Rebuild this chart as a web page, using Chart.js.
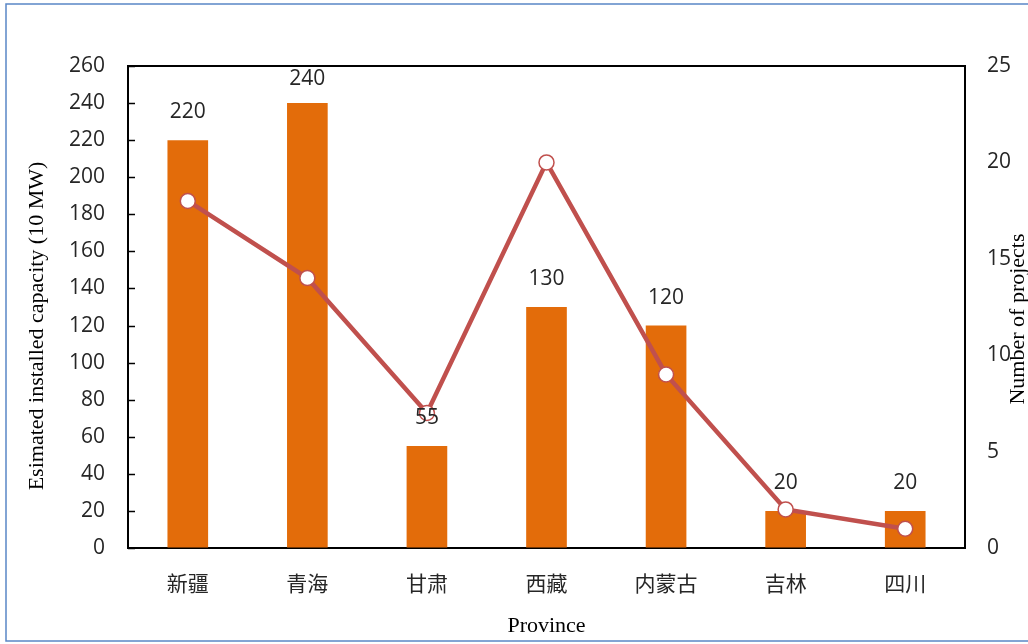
<!DOCTYPE html>
<html lang="zh">
<head>
  <meta charset="UTF-8">
  <title>Province capacity and projects</title>
  <script src="https://cdn.jsdelivr.net/npm/chart.js"></script>
  <style>
    html, body { margin: 0; padding: 0; background: #fff; }
    #wrap { width: 1028px; height: 644px; }
  </style>
</head>
<body>
  <div id="wrap"><canvas id="chart" width="1028" height="644"></canvas></div>

  <script>
    // Chart data
    const provinces = ["新疆", "青海", "甘肃", "西藏", "内蒙古", "吉林", "四川"];
    const capacity = [220, 240, 55, 130, 120, 20, 20];   // 10 MW
    const projects = [18, 14, 7, 20, 9, 2, 1];

    const textColor = "#262626";
    const tickFont = { family: "'Open Sans', 'Noto Sans', sans-serif", size: 21, weight: "normal" };
    const cjkFont = { family: "'Noto Sans CJK SC', sans-serif", size: 21, weight: "normal" };
    const serif = "'Liberation Serif', 'Times New Roman', serif";

    // Frame, inner ticks, bar value labels and axis titles
    const decorations = {
      id: "decorations",
      afterDatasetsDraw(chart) {
        const ctx = chart.ctx;
        const area = chart.chartArea;
        const yScale = chart.scales.y;

        ctx.save();
        // top edge of the plot box
        ctx.strokeStyle = "#000";
        ctx.lineWidth = 2;
        ctx.beginPath();
        ctx.moveTo(area.left, area.top);
        ctx.lineTo(area.right, area.top);
        ctx.stroke();

        // left axis ticks pointing inward
        ctx.lineWidth = 1.5;
        yScale.ticks.forEach(t => {
          const py = Math.round(yScale.getPixelForValue(t.value)) + 0.5;
          ctx.beginPath();
          ctx.moveTo(area.left, py);
          ctx.lineTo(area.left + 7, py);
          ctx.stroke();
        });

        // bar values, kept inside the plot box
        const bars = chart.getDatasetMeta(0).data;
        ctx.fillStyle = textColor;
        ctx.font = `${tickFont.size}px ${tickFont.family}`;
        ctx.textAlign = "center";
        ctx.textBaseline = "middle";
        bars.forEach((bar, i) => {
          const ly = Math.max(bar.y - 28, area.top + 13);
          ctx.fillText(String(capacity[i]), bar.x, ly);
        });

        // axis titles
        ctx.fillStyle = "#000";
        ctx.font = `22px ${serif}`;
        ctx.fillText("Province", (area.left + area.right) / 2, 626);

        ctx.save();
        ctx.translate(37, 326);
        ctx.rotate(-Math.PI / 2);
        ctx.fillText("Esimated installed capacity (10 MW)", 0, 0);
        ctx.restore();

        ctx.save();
        ctx.translate(1018, 319);
        ctx.rotate(-Math.PI / 2);
        ctx.fillText("Number of projects", 0, 0);
        ctx.restore();

        // outer frame
        ctx.strokeStyle = "#5a87c6";
        ctx.lineWidth = 1.5;
        ctx.strokeRect(6, 4, 1100, 637);
        ctx.restore();
      }
    };

    new Chart(document.getElementById("chart"), {
      data: {
        labels: provinces,
        datasets: [
          {
            type: "bar",
            label: "Capacity",
            data: capacity,
            yAxisID: "y",
            backgroundColor: "#e36c0a",
            barPercentage: 0.34,
            categoryPercentage: 1,
            order: 2
          },
          {
            type: "line",
            label: "Projects",
            data: projects,
            yAxisID: "y1",
            borderColor: "#c0504d",
            borderWidth: 4.5,
            pointRadius: 7.5,
            pointBorderWidth: 1.5,
            pointBackgroundColor: "#fff",
            pointBorderColor: "#c0504d",
            tension: 0,
            order: 1
          }
        ]
      },
      options: {
        responsive: false,
        animation: false,
        layout: { padding: { top: 66, left: 0, right: 0, bottom: 0 } },
        plugins: {
          legend: { display: false },
          tooltip: { enabled: false }
        },
        scales: {
          x: {
            type: "category",
            offset: true,
            grid: { display: false, drawTicks: false },
            border: { color: "#000", width: 2 },
            ticks: { font: cjkFont, color: textColor, padding: 22 },
            afterFit(scale) { scale.height = 96; }
          },
          y: {
            position: "left",
            min: 0,
            max: 260,
            grid: { drawOnChartArea: false, drawTicks: false },
            border: { color: "#000", width: 2 },
            ticks: { stepSize: 20, font: tickFont, color: textColor, padding: 23 },
            afterFit(scale) { scale.width = 128; }
          },
          y1: {
            position: "right",
            min: 0,
            max: 25,
            grid: { drawOnChartArea: false, drawTicks: false },
            border: { color: "#000", width: 2 },
            ticks: { stepSize: 5, font: tickFont, color: textColor, padding: 22 },
            afterFit(scale) { scale.width = 63; }
          }
        }
      },
      plugins: [decorations]
    });
  </script>
</body>
</html>
